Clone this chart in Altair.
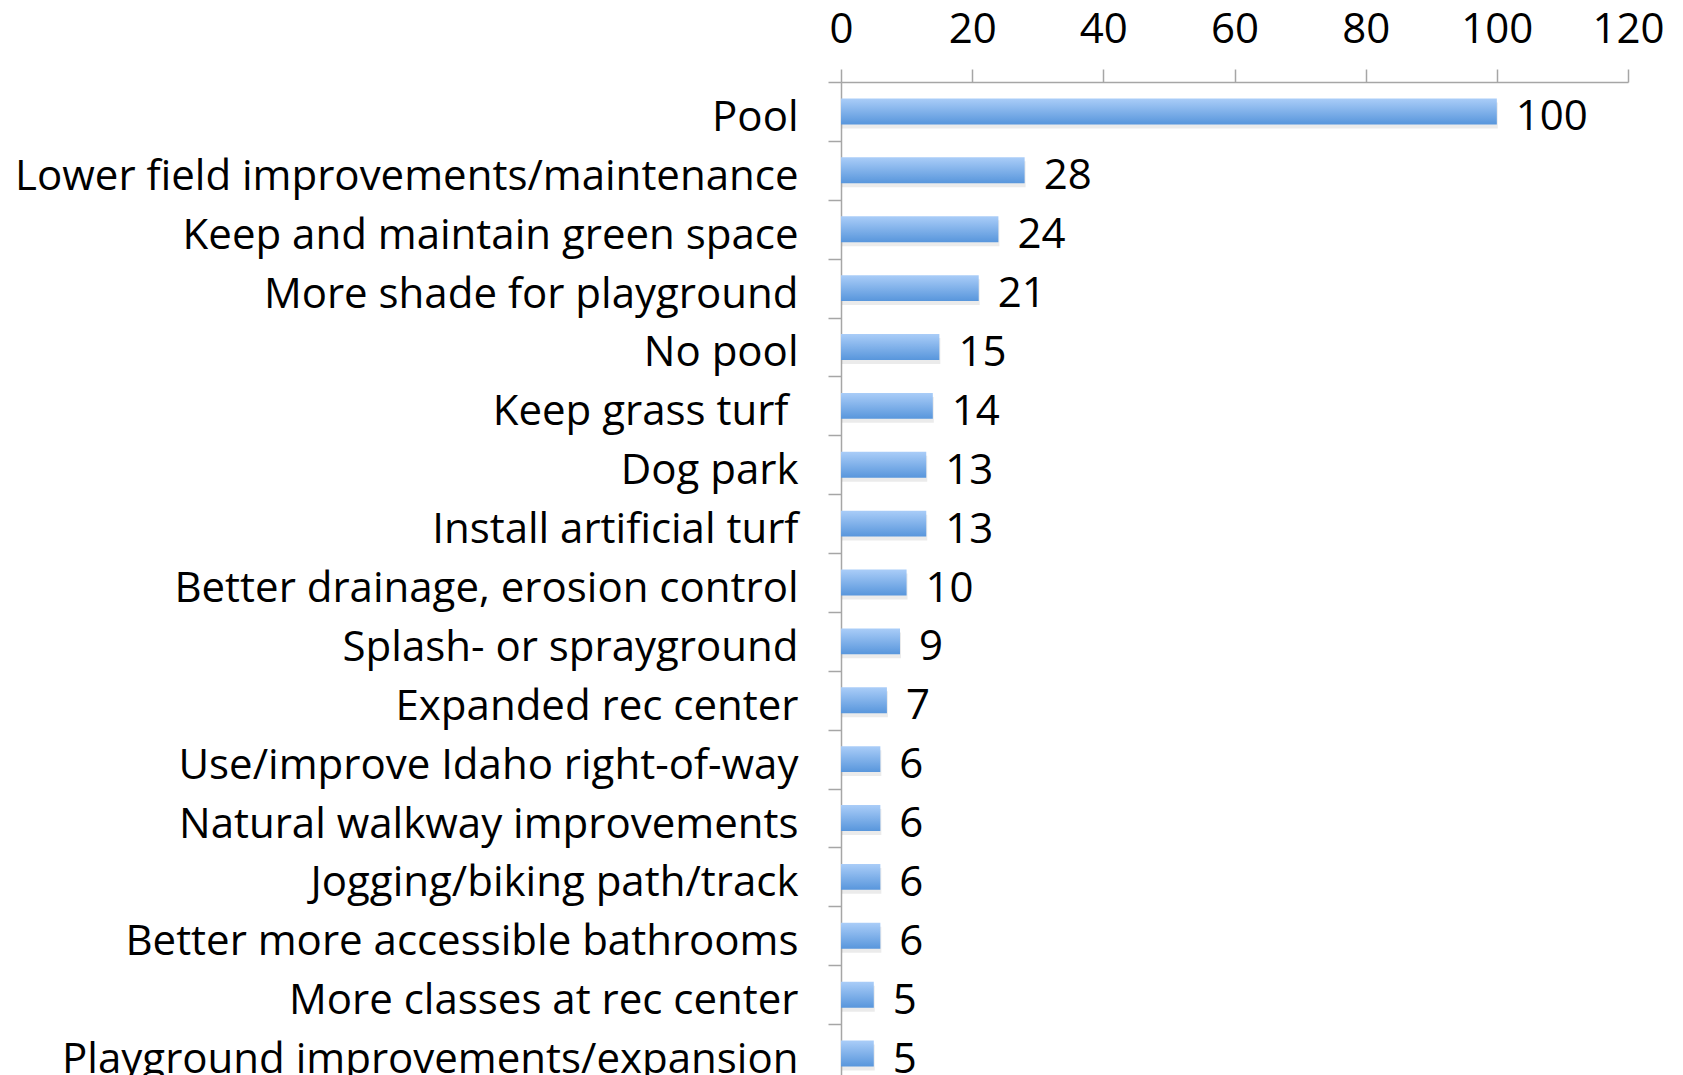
import altair as alt
import pandas as pd

categories = [
    "Pool",
    "Lower field improvements/maintenance",
    "Keep and maintain green space",
    "More shade for playground",
    "No pool",
    "Keep grass turf ",
    "Dog park",
    "Install artificial turf",
    "Better drainage, erosion control",
    "Splash- or sprayground",
    "Expanded rec center",
    "Use/improve Idaho right-of-way",
    "Natural walkway improvements",
    "Jogging/biking path/track",
    "Better more accessible bathrooms",
    "More classes at rec center",
    "Playground improvements/expansion",
]
values = [100, 28, 24, 21, 15, 14, 13, 13, 10, 9, 7, 6, 6, 6, 6, 5, 5]
x_ticks = [0, 20, 40, 60, 80, 100, 120]

df = pd.DataFrame({"category": categories, "value": values})

FONT = "Open Sans"
FS = 42
GRAY = "#a6a6a6"

# Vega trims label text, so the trailing space of "Keep grass turf " is
# reproduced as extra padding for that label.
label_padding = {
    "condition": {"test": "datum.value === 'Keep grass turf '", "value": 40},
    "value": 30,
}

y_enc = alt.Y(
    "category:N",
    sort=categories,
    scale=alt.Scale(paddingInner=0, paddingOuter=0),
    axis=alt.Axis(
        title=None,
        orient="left",
        domainColor=GRAY,
        domainWidth=1.5,
        tickColor=GRAY,
        tickWidth=1.5,
        tickSize=13,
        tickBand="extent",
        labelPadding=label_padding,
        labelOffset=6,
        labelLimit=0,
        labelFont=FONT,
        labelFontSize=FS,
        labelColor="#000000",
    ),
)

x_enc = alt.X(
    "value:Q",
    scale=alt.Scale(domain=[0, 120], nice=False),
    axis=alt.Axis(
        title=None,
        orient="top",
        values=x_ticks,
        grid=False,
        labelFlush=False,
        domainColor=GRAY,
        domainWidth=1.5,
        tickColor=GRAY,
        tickWidth=1.5,
        tickSize=13,
        labelPadding=18,
        labelFont=FONT,
        labelFontSize=FS,
        labelColor="#000000",
    ),
)

gradient = alt.Gradient(
    gradient="linear",
    stops=[
        alt.GradientStop(color="#aacdf8", offset=0),
        alt.GradientStop(color="#5896dc", offset=1),
    ],
    x1=0, x2=0, y1=0, y2=1,
)

base = alt.Chart(df)

shadow = base.mark_bar(
    color="#000000", opacity=0.08, height={"band": 0.44}, yOffset=4, xOffset=1
).encode(x=x_enc, y=y_enc)

bars = base.mark_bar(color=gradient, height={"band": 0.44}).encode(x=x_enc, y=y_enc)

labels = base.mark_text(
    align="left", baseline="middle", dx=19, dy=6, font=FONT, fontSize=FS, color="#000000"
).encode(x="value:Q", y=alt.Y("category:N", sort=categories), text="value:Q")

chart = (
    alt.layer(shadow, bars, labels)
    .properties(
        width=787,
        height=1001,
        autosize=alt.AutoSizeParams(type="none"),
        padding={"left": 833, "top": 74, "right": 47, "bottom": 0},
        background="white",
    )
    .configure_view(stroke=None)
)

chart.save("out.html", embed_options={"renderer": "svg", "actions": False})
